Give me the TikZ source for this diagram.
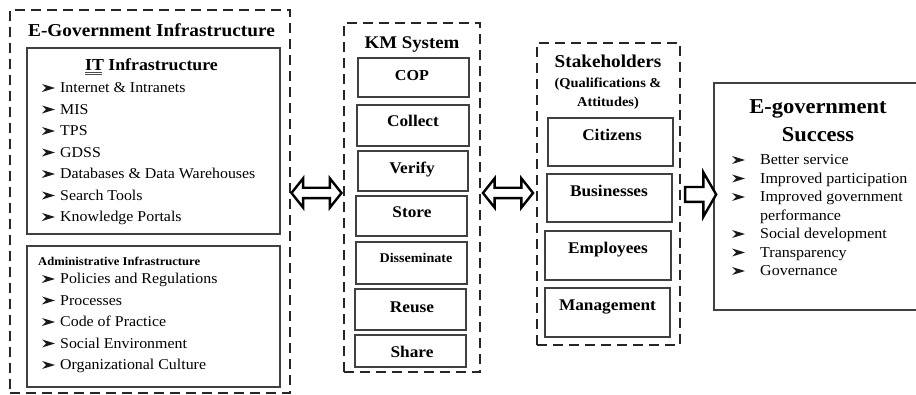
\documentclass[tikz,border=0pt]{standalone}
\usepackage{fontspec}
\setmainfont{Liberation Serif}[FakeStretch=1.06]
\usetikzlibrary{shapes.arrows,fit}
\begin{document}
\begin{tikzpicture}[x=1pt,y=-1pt,
  dashbox/.style={draw=black!85, line width=2.3pt, dash pattern=on 10pt off 6pt, inner sep=0pt},
  box/.style={draw=black!75, line width=1.1pt, inner sep=0pt},
  item/.style={anchor=base west, inner sep=0pt, font=\fontsize{15}{17}\selectfont},
  sitem/.style={anchor=base west, inner sep=0pt, font=\fontsize{15.1}{17}\selectfont},
  bulfill/.style={fill=black!90},
  ttl/.style={anchor=base, inner sep=0pt, font=\bfseries\fontsize{#1}{#1}\selectfont},
  darr/.style={double arrow, draw=black, fill=white, line width=2.4pt, inner xsep=0pt, inner ysep=4pt,
    double arrow head extend=9.5pt, double arrow tip angle=103, minimum height=50pt},
  sarr/.style={single arrow, draw=black, fill=white, line width=2.4pt, inner xsep=0pt, inner ysep=6.25pt,
    single arrow head extend=14.75pt, single arrow tip angle=120, minimum height=31pt}]
\useasboundingbox (0,0) rectangle (916,395);
\newcommand\mybul[2]{\fill[bulfill] (#1,#2) ++(0,-4) -- ++(13,4) -- ++(-13,4) -- ++(4,-4) -- cycle;}

% ---------- E-Government Infrastructure ----------
\node[dashbox, fit={(10,10) (290,393)}] (egi) {};
\node[ttl=18.2] (egit) at (151.5,36.5) {E-Government Infrastructure};
\node[box, fit={(27,48) (280,234)}] (itb) {};
\node[ttl=16.8] (itt) at (151.5,70.5) {IT Infrastructure};
\draw[black!70, line width=0.6pt] ([yshift=-2.2pt]itt.base west) -- ++(17,0);
\draw[black!70, line width=0.6pt] ([yshift=-4pt]itt.base west) -- ++(17,0);
\foreach \t [count=\i] in {Internet \& Intranets, MIS, TPS, GDSS, Databases \& Data Warehouses, Search Tools, Knowledge Portals}{
  \mybul{42}{{88+21.5*(\i-1)}}
  \node[item] (iti\i) at (60,{93+21.5*(\i-1)}) {\t};
}
\node[box, fit={(27,246) (280,387)}] (admb) {};
\node[anchor=base west, inner sep=0pt, font=\bfseries\fontsize{11.9}{12}\selectfont] (admt) at (38,265.5) {Administrative Infrastructure};
\foreach \t [count=\i] in {Policies and Regulations, Processes, Code of Practice, Social Environment, Organizational Culture}{
  \mybul{42}{{279+21.5*(\i-1)}}
  \node[item] (adi\i) at (60,{284+21.5*(\i-1)}) {\t};
}

% ---------- KM System ----------
\node[dashbox, fit={(344,23) (480,372)}] (km) {};
\node[ttl=17.8] (kmt) at (412,49) {KM System};
\node[box, fit={(358,58) (469,97)}] (b1) {};
\node[box, fit={(357,105) (469,146)}] (b2) {};
\node[box, fit={(358,151) (468,191)}] (b3) {};
\node[box, fit={(356,196) (467,236)}] (b4) {};
\node[box, fit={(356,242) (467,284)}] (b5) {};
\node[box, fit={(355,289) (466,330)}] (b6) {};
\node[box, fit={(355,335) (466,367)}] (b7) {};
\node[ttl=15.2] (l1) at (412,81) {COP};
\node[ttl=16.3] (l2) at (413,127) {Collect};
\node[ttl=16.3] (l3) at (412,173.5) {Verify};
\node[ttl=16.3] (l4) at (412,217.5) {Store};
\node[ttl=13.3] (l5) at (416,262.5) {Disseminate};
\node[ttl=16.3] (l6) at (412,312.5) {Reuse};
\node[ttl=16.3] (l7) at (412,357.5) {Share};

% ---------- Stakeholders ----------
\node[dashbox, fit={(537,43) (680,345)}] (stk) {};
\node[ttl=18.1] (stt1) at (608,68) {Stakeholders};
\node[ttl=13.6] (stt2) at (608,88) {(Qualifications \&};
\node[ttl=13.6] (stt3) at (608,107) {Attitudes)};
\node[box, fit={(548,118) (673,166)}] (s1) {};
\node[box, fit={(547,174) (672,222)}] (s2) {};
\node[box, fit={(545,231) (671,280)}] (s3) {};
\node[box, fit={(545,288) (670,337)}] (s4) {};
\node[ttl=16.3] (sl1) at (612,140.5) {Citizens};
\node[ttl=16.3] (sl2) at (609,196.5) {Businesses};
\node[ttl=16.3] (sl3) at (608,253.5) {Employees};
\node[ttl=16.3] (sl4) at (607.5,310.5) {Management};

% ---------- E-government Success ----------
\node[box, fit={(714,83) (930,310)}] (succ) {};
\node[ttl=21.2] (sut1) at (818,114) {E-government};
\node[ttl=21.2] (sut2) at (818,142) {Success};
\foreach \t/\b [count=\i] in {Better service/1, Improved participation/1, Improved government/1, performance/0, Social development/1, Transparency/1, Governance/1}{
  \ifnum\b=1 \mybul{732}{{160+18.5*(\i-1)}} \fi
  \node[sitem] (sui\i) at (760,{165+18.5*(\i-1)}) {\t};
}

% ---------- arrows ----------
\node[darr] (a1) at (316.5,193) {};
\node[darr] (a2) at (508,193) {};
\node[sarr] (a3) at (698.5,194.5) {};
\end{tikzpicture}
\end{document}
